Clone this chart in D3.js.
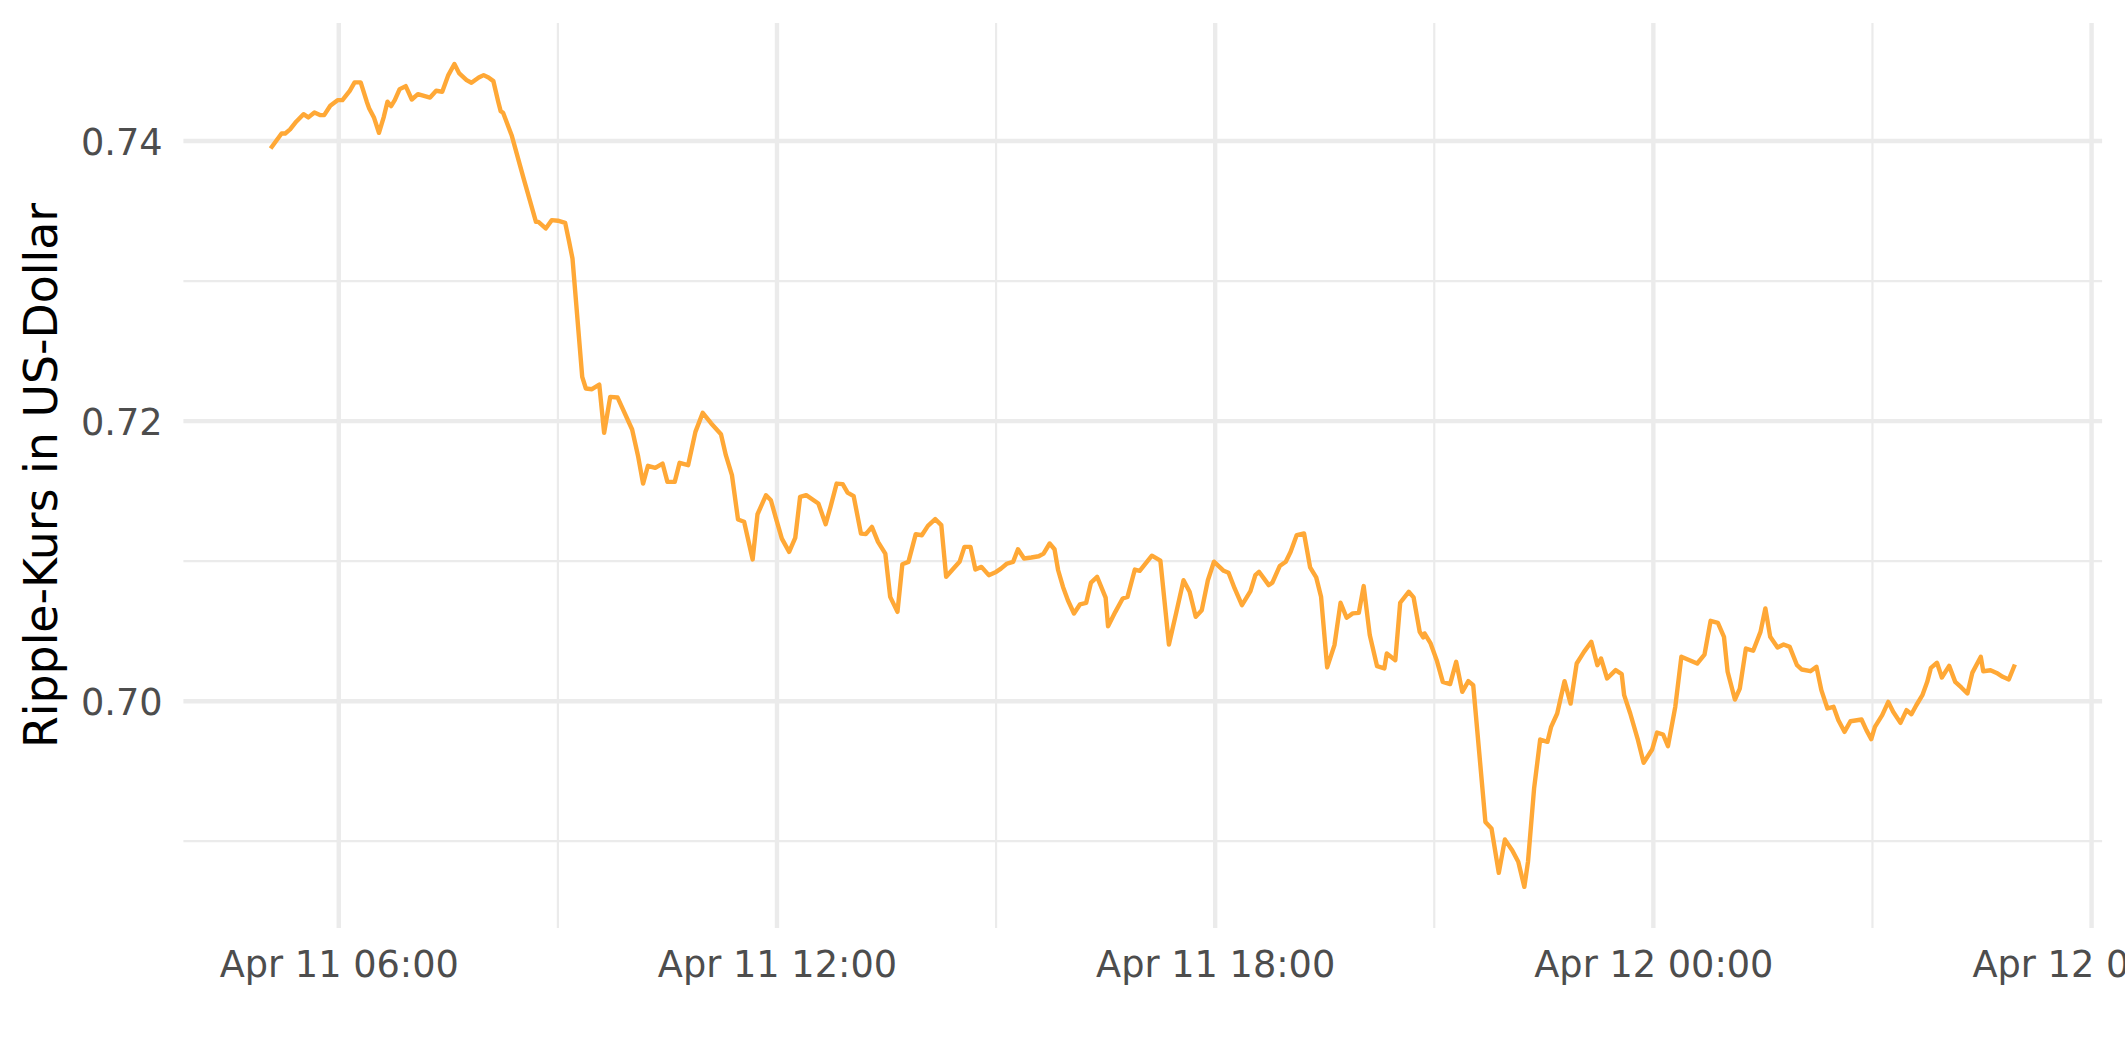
<!DOCTYPE html>
<html>
<head>
<meta charset="utf-8">
<script src="https://cdn.jsdelivr.net/npm/d3@7"></script>
<style>
  html, body { margin: 0; padding: 0; background: #ffffff; }
  svg { display: block; }
</style>
</head>
<body>
<svg id="chart" width="2125" height="1062"></svg>
<script>
// ---- data (time = minutes after 2022-04-11 00:00 UTC) ----
const baseDate = Date.UTC(2022, 3, 11, 0, 0);
const minutes = [
  304,313,316,320,325,331,335,340,345,348,353,359,363,369,373,378,383,385,389,393,
  397,400,403,406,410,415,420,425,430,435,440,445,450,455,459,465,469,475,479,483,
  487,491,493,495,502,512,522,524,530,535,540,546,
  549,552,560,563,568,574,578,583,589,601,606,610,614,620,626,630,636,640,647,653,
  659,666,674,678,683,688,693,700,704,711,715,719,724,730,735,739,744,754,760,764,
  769,774,778,783,
  789,793,798,803,809,813,819,823,828,834,839,844,850,855,859,865,870,874,879,883,
  888,894,900,904,909,914,918,923,929,935,939,944,948,951,955,959,964,969,974,978,
  983,990,992,998,1004,1008,1014,1018,
  1028,1035,1042,1048,1054,1059,1064,1069,1074,1079,1087,1091,1096,1102,1109,1113,
  1116,1120,1124,1127,1133,1138,1142,1147,1153,1158,1163,1167,1172,1178,1183,1188,
  1193,1198,1202,1207,1213,1219,1221,1228,1232,1239,1243,1248,1251,1252,1257,
  1262,1267,1273,1278,1283,1288,1292,1297,1302,1307,1313,1318,1324,1329,1334,1337,
  1342,1347,1353,1356,1361,1367,1372,1377,1383,1389,1394,1397,1402,1409,1414,1416,
  1421,1427,1432,1439,1443,1448,1452,1458,1463,1476,1482,1487,1493,
  1498,1501,1507,1511,1516,1522,1528,1532,1536,1542,1547,1552,1558,1562,1569,1574,
  1578,1583,1588,1592,1597,1602,1611,1615,1619,1622,1628,1633,1637,1643,1648,1652,
  1656,1661,1665,1668,1673,1677,1683,1688,1693,1698,1702,1709,1711,1717,1722,1727,
  1732,1737
];
const price = [
  0.73947,0.74054,0.74054,0.74083,0.74138,0.74192,0.74169,0.74204,0.74185,0.74185,
  0.74252,0.74292,0.74292,0.74359,0.74419,0.74419,0.74281,0.74233,0.74166,0.74059,
  0.74173,0.74281,0.74250,0.74292,0.74371,0.74392,0.74297,0.74335,0.74323,0.74311,
  0.74359,0.74352,0.74471,0.74550,0.74483,0.74435,0.74416,0.74454,0.74471,0.74454,
  0.74428,0.74281,0.74214,0.74202,0.74042,0.73728,0.73423,0.73423,0.73376,0.73435,
  0.73431,0.73416,
  0.73292,0.73161,0.72316,0.72233,0.72228,0.72261,0.71916,0.72173,0.72169,0.71940,
  0.71745,0.71554,0.71681,0.71666,0.71697,0.71566,0.71566,0.71702,0.71685,0.71923,
  0.72059,0.71983,0.71907,0.71757,0.71614,0.71297,0.71281,0.71012,0.71335,0.71471,
  0.71435,0.71311,0.71161,0.71066,0.71166,0.71459,0.71471,0.71412,0.71264,0.71388,
  0.71554,0.71550,0.71490,0.71464,
  0.71197,0.71193,0.71245,0.71138,0.71054,0.70745,0.70638,0.70978,0.70995,0.71193,
  0.71185,0.71252,0.71300,0.71257,0.70888,0.70947,0.70995,0.71102,0.71102,0.70940,
  0.70959,0.70900,0.70923,0.70947,0.70983,0.70995,0.71085,0.71019,0.71026,0.71035,
  0.71054,0.71126,0.71085,0.70935,0.70816,0.70721,0.70626,0.70692,0.70702,0.70847,
  0.70888,0.70740,0.70535,0.70638,0.70733,0.70745,0.70940,0.70931,
  0.71039,0.71003,0.70405,0.70631,0.70864,0.70781,0.70603,0.70650,0.70864,0.70996,
  0.70931,0.70917,0.70805,0.70686,0.70786,0.70900,0.70924,0.70877,0.70829,0.70846,
  0.70965,0.70996,0.71067,0.71186,0.71198,0.70955,0.70884,0.70746,0.70241,0.70400,
  0.70703,0.70596,0.70627,0.70631,0.70822,0.70472,0.70250,0.70234,0.70341,0.70293,
  0.70703,0.70781,0.70741,0.70496,0.70455,0.70484,0.70412,
  0.70293,0.70138,0.70122,0.70281,0.70067,0.70143,0.70114,0.69626,0.69138,0.69091,
  0.68774,0.69012,0.68936,0.68853,0.68674,0.68853,0.69376,0.69726,0.69710,0.69817,
  0.69912,0.70143,0.69983,0.70269,0.70352,0.70424,0.70257,0.70305,0.70162,0.70222,
  0.70193,0.70043,0.69912,0.69733,0.69560,0.69655,0.69776,0.69762,0.69679,0.69960,
  0.70317,0.70269,0.70333,0.70574,0.70560,
  0.70460,0.70210,0.70012,0.70090,0.70376,0.70360,0.70495,0.70662,0.70460,0.70383,
  0.70405,0.70388,0.70257,0.70226,0.70214,0.70245,0.70079,0.69948,0.69960,0.69864,
  0.69781,0.69857,0.69869,0.69793,0.69729,0.69817,0.69900,0.69995,0.69924,0.69845,
  0.69936,0.69907,0.69971,0.70043,0.70138,0.70238,0.70274,0.70169,0.70252,0.70138,
  0.70098,0.70055,0.70202,0.70317,0.70214,0.70221,0.70202,0.70174,0.70155,0.70262
];
const yMajorTicks = [0.70, 0.72, 0.74];
const yMinorTicks = [0.69, 0.71, 0.73];
const yTickLabels = ["0.70", "0.72", "0.74"];
const yTitle = "Ripple-Kurs in US-Dollar";

// ---- layout ----
const W = 2125, H = 1062;
const panel = { left: 183.4, right: 2102.1, top: 22.9, bottom: 928 };

const data = minutes.map((m, i) => ({ t: new Date(baseDate + m * 60000), v: price[i] }));

// ggplot-like 5% expansion
const tExt = d3.extent(data, d => +d.t);
const tPad = (tExt[1] - tExt[0]) * 0.05;
const vExt = d3.extent(data, d => d.v);
const vPad = (vExt[1] - vExt[0]) * 0.05;

const x = d3.scaleUtc()
  .domain([new Date(tExt[0] - tPad), new Date(tExt[1] + tPad)])
  .range([panel.left, panel.right]);
const y = d3.scaleLinear()
  .domain([vExt[0] - vPad, vExt[1] + vPad])
  .range([panel.bottom, panel.top]);

const svg = d3.select("#chart");
svg.append("rect").attr("width", W).attr("height", H).attr("fill", "#ffffff");

const grid = svg.append("g");
const xMajor = d3.utcHour.every(6).range(x.domain()[0], x.domain()[1]);
const xMinor = d3.utcHour.every(3).range(x.domain()[0], x.domain()[1])
  .filter(d => d.getUTCHours() % 6 !== 0);

// minor grid
grid.selectAll(".ymin").data(yMinorTicks).join("line")
  .attr("x1", panel.left).attr("x2", panel.right)
  .attr("y1", d => y(d)).attr("y2", d => y(d))
  .attr("stroke", "#ebebeb").attr("stroke-width", 2.2);
grid.selectAll(".xmin").data(xMinor).join("line")
  .attr("x1", d => x(d)).attr("x2", d => x(d))
  .attr("y1", panel.top).attr("y2", panel.bottom)
  .attr("stroke", "#ebebeb").attr("stroke-width", 2.2);
// major grid
grid.selectAll(".ymaj").data(yMajorTicks).join("line")
  .attr("x1", panel.left).attr("x2", panel.right)
  .attr("y1", d => y(d)).attr("y2", d => y(d))
  .attr("stroke", "#ebebeb").attr("stroke-width", 4.4);
grid.selectAll(".xmaj").data(xMajor).join("line")
  .attr("x1", d => x(d)).attr("x2", d => x(d))
  .attr("y1", panel.top).attr("y2", panel.bottom)
  .attr("stroke", "#ebebeb").attr("stroke-width", 4.4);

// line
const line = d3.line().x(d => x(d.t)).y(d => y(d.v));
svg.append("path").datum(data)
  .attr("d", line)
  .attr("fill", "none")
  .attr("stroke", "#ffa836")
  .attr("stroke-width", 4.4)
  .attr("stroke-linejoin", "round");

// x axis labels
const fmt = d3.utcFormat("%b %d %H:%M");
const xAxis = d3.axisBottom(x).tickValues(xMajor).tickFormat(fmt).tickSize(0).tickPadding(0);
const gx = svg.append("g").attr("transform", `translate(0,${panel.bottom})`).call(xAxis);
gx.select(".domain").remove();
gx.selectAll("text")
  .attr("y", 49).attr("dy", null)
  .attr("fill", "#4d4d4d")
  .style("font-family", "'DejaVu Sans', sans-serif")
  .style("font-size", "36.7px");

// y axis labels
const yAxis = d3.axisLeft(y).tickValues(yMajorTicks)
  .tickFormat((d, i) => yTickLabels[i]).tickSize(0).tickPadding(0);
const gy = svg.append("g").attr("transform", `translate(${panel.left - 20.7},0)`).call(yAxis);
gy.select(".domain").remove();
gy.selectAll("text")
  .attr("x", 0).attr("dy", "0.37em")
  .attr("fill", "#4d4d4d")
  .style("font-family", "'DejaVu Sans', sans-serif")
  .style("font-size", "36.7px");

// y title
svg.append("text")
  .attr("transform", `translate(57,${(panel.top + panel.bottom) / 2}) rotate(-90)`)
  .attr("text-anchor", "middle")
  .attr("fill", "#000000")
  .style("font-family", "'DejaVu Sans', sans-serif")
  .style("font-size", "45.8px")
  .text(yTitle);
</script>
</body>
</html>
